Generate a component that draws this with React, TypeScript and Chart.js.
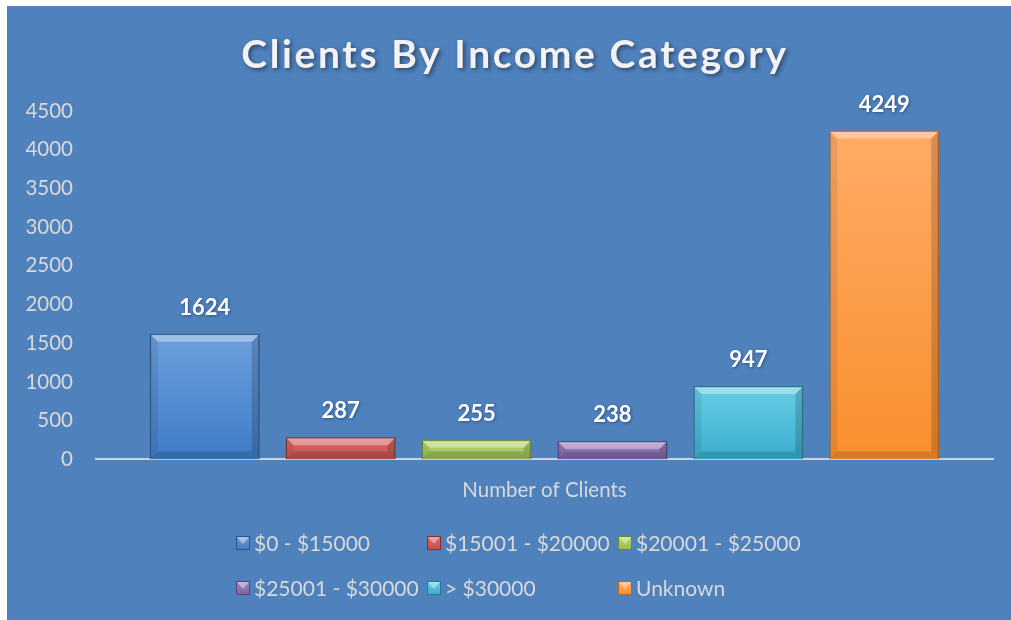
import React, { useEffect, useRef } from 'react';
import { Chart, registerables } from 'chart.js';

Chart.register(...registerables);

const titleText = 'Clients By Income Category';
const categories = ['Number of Clients'];
const seriesNames = ['$0 - $15000', '$15001 - $20000', '$20001 - $25000', '$25001 - $30000', '> $30000', 'Unknown'];
const seriesValues = [1624, 287, 255, 238, 947, 4249];
const yMin = 0;
const yMax = 4500;
const yStep = 500;

const topColors = ['#6d9fdc', '#e06a66', '#bcdc72', '#a087c6', '#68cde6', '#ffab66'];
const bottomColors = ['#3f7cc6', '#c0504d', '#98b957', '#7d61a0', '#3aaecd', '#f98f2e'];
const borderColors = ['#2c5584', '#7e3331', '#6b853a', '#56437a', '#2a7890', '#b0652a'];

const BG = '#4f81bd';
const TEXT = '#d9d9d9';
const FONT = 'Lato, "Open Sans", sans-serif';

const bevelPlugin = {
  id: 'bevel',
  afterDatasetsDraw(chart: any) {
    const ctx = chart.ctx;
    chart.data.datasets.forEach((_: any, di: number) => {
      const meta = chart.getDatasetMeta(di);
      meta.data.forEach((el: any) => {
        const { x, y, base, width } = el.getProps(['x', 'y', 'base', 'width'], true);
        const l = x - width / 2;
        const r = x + width / 2;
        const t = Math.min(y, base);
        const b = Math.max(y, base);
        const d = Math.min(8, (b - t) / 2);
        ctx.save();
        ctx.fillStyle = 'rgba(255,255,255,0.35)';
        ctx.beginPath();
        ctx.moveTo(l + 1, t + 1); ctx.lineTo(r - 1, t + 1); ctx.lineTo(r - d, t + d); ctx.lineTo(l + d, t + d); ctx.closePath(); ctx.fill();
        ctx.fillStyle = 'rgba(0,0,0,0.08)';
        ctx.beginPath();
        ctx.moveTo(l + 1, t + 1); ctx.lineTo(l + d, t + d); ctx.lineTo(l + d, b - d); ctx.lineTo(l + 1, b - 1); ctx.closePath(); ctx.fill();
        ctx.fillStyle = 'rgba(0,0,0,0.16)';
        ctx.beginPath();
        ctx.moveTo(r - 1, t + 1); ctx.lineTo(r - d, t + d); ctx.lineTo(r - d, b - d); ctx.lineTo(r - 1, b - 1); ctx.closePath(); ctx.fill();
        ctx.fillStyle = 'rgba(0,0,0,0.15)';
        ctx.beginPath();
        ctx.moveTo(l + 1, b - 1); ctx.lineTo(r - 1, b - 1); ctx.lineTo(r - d, b - d); ctx.lineTo(l + d, b - d); ctx.closePath(); ctx.fill();
        ctx.restore();
      });
    });
  },
};

const valueLabelPlugin = {
  id: 'valueLabels',
  afterDatasetsDraw(chart: any) {
    const ctx = chart.ctx;
    ctx.save();
    ctx.font = `bold 22px ${FONT}`;
    ctx.fillStyle = '#ffffff';
    ctx.textAlign = 'center';
    ctx.textBaseline = 'middle';
    ctx.shadowColor = 'rgba(0,0,0,0.35)';
    ctx.shadowBlur = 3;
    ctx.shadowOffsetX = 1;
    ctx.shadowOffsetY = 1;
    chart.data.datasets.forEach((ds: any, di: number) => {
      const meta = chart.getDatasetMeta(di);
      meta.data.forEach((el: any, i: number) => {
        const { x, y } = el.getProps(['x', 'y'], true);
        ctx.fillText(String(ds.data[i]), x, y - 26);
      });
    });
    ctx.restore();
  },
};

const titlePlugin = {
  id: 'fancyTitle',
  afterDraw(chart: any) {
    const ctx = chart.ctx;
    ctx.save();
    ctx.font = `bold 39px ${FONT}`;
    (ctx as any).letterSpacing = '2.6px';
    ctx.fillStyle = '#f2f2f2';
    ctx.textAlign = 'center';
    ctx.textBaseline = 'middle';
    ctx.shadowColor = 'rgba(0,0,0,0.45)';
    ctx.shadowBlur = 4;
    ctx.shadowOffsetX = 2;
    ctx.shadowOffsetY = 2;
    ctx.fillText(titleText, chart.width / 2 + 6, 49);
    ctx.restore();
  },
};

const legendPlugin = {
  id: 'gridLegend',
  afterDraw(chart: any) {
    const ctx = chart.ctx;
    const colW = 191;
    const startX = chart.width / 2 - 273;
    const rowY = [537, 582];
    const box = 14;
    ctx.save();
    ctx.font = `21px ${FONT}`;
    ctx.textBaseline = 'middle';
    ctx.textAlign = 'left';
    seriesNames.forEach((name, i) => {
      const col = i % 3;
      const row = Math.floor(i / 3);
      const bx = startX + col * colW;
      const by = rowY[row] - box / 2;
      const g = ctx.createLinearGradient(0, by, 0, by + box);
      g.addColorStop(0, topColors[i]);
      g.addColorStop(1, bottomColors[i]);
      ctx.fillStyle = g;
      ctx.fillRect(bx, by, box, box);
      ctx.fillStyle = 'rgba(255,255,255,0.4)';
      ctx.beginPath();
      ctx.moveTo(bx + 1, by + 1); ctx.lineTo(bx + box - 1, by + 1); ctx.lineTo(bx + box / 2, by + box / 2 + 1); ctx.closePath(); ctx.fill();
      ctx.strokeStyle = borderColors[i];
      ctx.lineWidth = 1;
      ctx.strokeRect(bx + 0.5, by + 0.5, box - 1, box - 1);
      ctx.fillStyle = TEXT;
      ctx.fillText(name, bx + 18, rowY[row] + 1);
    });
    ctx.restore();
  },
};

export default function App() {
  const ref = useRef<HTMLCanvasElement | null>(null);

  useEffect(() => {
    document.body.style.margin = '0';
    const canvas = ref.current;
    if (!canvas) return;
    const chart = new Chart(canvas, {
      type: 'bar',
      data: {
        labels: categories,
        datasets: seriesNames.map((name, i) => ({
          label: name,
          data: [seriesValues[i]],
          backgroundColor: (c: any) => {
            const ch = c.chart;
            const ys = ch.scales && ch.scales.y;
            if (!ys || c.raw == null) return bottomColors[i];
            const top = ys.getPixelForValue(c.raw);
            const bot = ys.getPixelForValue(0);
            if (!isFinite(top) || !isFinite(bot) || top === bot) return bottomColors[i];
            const g = ch.ctx.createLinearGradient(0, top, 0, bot);
            g.addColorStop(0, topColors[i]);
            g.addColorStop(1, bottomColors[i]);
            return g;
          },
          borderColor: borderColors[i],
          borderWidth: 1.5,
          categoryPercentage: 0.909,
          barPercentage: 0.81,
        })),
      },
      options: {
        responsive: false,
        animation: false,
        events: [],
        layout: { padding: { top: 105, left: 19, right: 18, bottom: 98 } },
        plugins: {
          legend: { display: false },
          title: { display: false },
          tooltip: { enabled: false },
        },
        scales: {
          x: {
            grid: { display: false, drawTicks: false },
            border: { display: true, color: '#c6d3e6', width: 2 },
            ticks: { color: TEXT, font: { family: FONT, size: 20.5 }, padding: 19 },
            afterFit: (s: any) => { s.paddingLeft = 0; s.paddingRight = 0; },
          },
          y: {
            min: yMin,
            max: yMax,
            grid: { display: false, drawTicks: false },
            border: { display: false },
            ticks: {
              stepSize: yStep,
              color: TEXT,
              font: { family: FONT, size: 20.5 },
              padding: 23,
              callback: (v: any) => String(v),
            },
            afterFit: (s: any) => { s.width = 70; },
          },
        },
      },
      plugins: [bevelPlugin, valueLabelPlugin, titlePlugin, legendPlugin],
    });
    return () => chart.destroy();
  }, []);

  return (
    <div style={{ position: 'absolute', left: 7, top: 6, width: 1004, height: 614, background: BG }}>
      <canvas ref={ref} width={1004} height={614} style={{ display: 'block' }} />
    </div>
  );
}
